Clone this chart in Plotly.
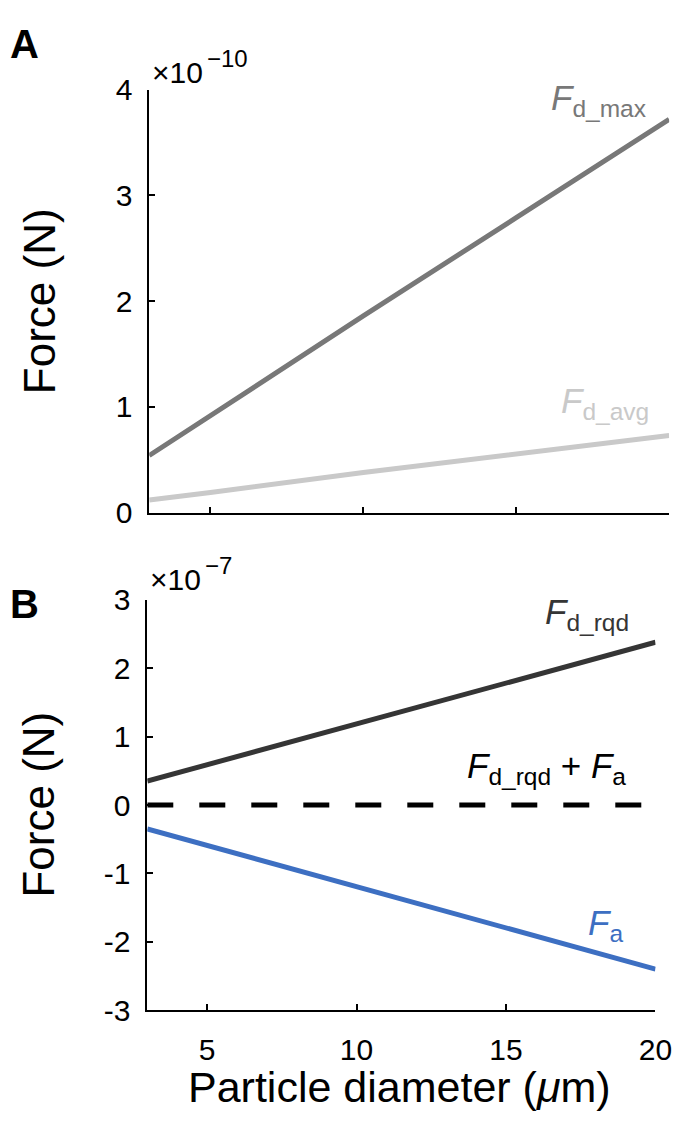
import plotly.graph_objects as go

# ---------------- data ----------------
diameter = [3, 5, 10, 15, 20]                      # particle diameter (um)
# Panel A, units of 1e-10 N
fd_max = [0.54, 0.92, 1.86, 2.79, 3.72]
fd_avg = [0.12, 0.19, 0.38, 0.56, 0.73]
# Panel B, units of 1e-7 N
fd_rqd = [0.35, 0.59, 1.19, 1.79, 2.38]
f_a = [-0.35, -0.59, -1.19, -1.79, -2.40]
f_sum = [0.0, 0.0, 0.0, 0.0, 0.0]

x_ticks = [5, 10, 15, 20]
ya_ticks = [0, 1, 2, 3, 4]
yb_ticks = [-3, -2, -1, 0, 1, 2, 3]
yb_ticktext = ["-3", "-2", "-1", "0", "1", "2", "3"]
exp_a = "−10"
exp_b = "−7"

W, H = 692, 1128
FONT = "Liberation Sans, Arial, Helvetica, sans-serif"

C_MAX = "#787878"
C_AVG = "#c9c9c9"
C_RQD = "#353535"
C_A = "#3d6fc2"


def px(x):
    return x / W


def py(y):
    return 1 - y / H


fig = go.Figure()
fig.add_trace(go.Scatter(x=diameter, y=fd_max, mode="lines",
                         line=dict(color=C_MAX, width=5), xaxis="x", yaxis="y"))
fig.add_trace(go.Scatter(x=diameter, y=fd_avg, mode="lines",
                         line=dict(color=C_AVG, width=5), xaxis="x", yaxis="y"))
fig.add_trace(go.Scatter(x=diameter, y=f_sum, mode="lines",
                         line=dict(color="black", width=5, dash="26px,26px"),
                         xaxis="x2", yaxis="y2"))
fig.add_trace(go.Scatter(x=diameter, y=fd_rqd, mode="lines",
                         line=dict(color=C_RQD, width=5), xaxis="x2", yaxis="y2"))
fig.add_trace(go.Scatter(x=diameter, y=f_a, mode="lines",
                         line=dict(color=C_A, width=5), xaxis="x2", yaxis="y2"))

axis_common = dict(showline=True, linecolor="black", linewidth=1.5,
                   ticks="inside", ticklen=6, tickwidth=1.5, tickcolor="black",
                   showgrid=False, zeroline=False,
                   tickfont=dict(family=FONT, size=30, color="black"))

fig.update_layout(
    width=W, height=H,
    margin=dict(l=0, r=0, t=0, b=0),
    paper_bgcolor="white", plot_bgcolor="white",
    showlegend=False,
    xaxis=dict(domain=[px(153), px(686)], range=[3, 20], tickvals=x_ticks,
               showticklabels=False, anchor="y", **axis_common),
    yaxis=dict(domain=[py(511), py(75)], range=[0, 4], tickvals=ya_ticks,
               anchor="x", ticklabelstandoff=9, **axis_common),
    xaxis2=dict(domain=[px(151), px(672)], range=[3, 20], tickvals=x_ticks,
                anchor="y2", ticklabelstandoff=12, **axis_common),
    yaxis2=dict(domain=[py(1024), py(601)], range=[-3, 3], tickvals=yb_ticks,
                ticktext=yb_ticktext, anchor="x2", ticklabelstandoff=9,
                **axis_common),
)

anns = []


def ann(text, x, y, size, color="black", xanchor="left", yanchor="middle",
        angle=0):
    anns.append(dict(text=text, x=px(x), y=py(y), xref="paper", yref="paper",
                     xanchor=xanchor, yanchor=yanchor, showarrow=False,
                     textangle=angle,
                     font=dict(family=FONT, size=size, color=color)))


# panel letters
ann("<b>A</b>", 8, 28, 40)
ann("<b>B</b>", 8, 605, 40)
# exponent labels (multiplier and its raised exponent)
ann("×10", 154, 57, 30)
ann(exp_a, 210, 43, 24)
ann("×10", 152, 580, 30)
ann(exp_b, 208, 566, 24)
# axis titles
ann("Force (N)", 40, 293, 44, xanchor="center", angle=-90)
ann("Force (N)", 40, 812, 44, xanchor="center", angle=-90)
ann("Particle diameter (<i>μ</i>m)", 410, 1103, 43, xanchor="center")
# line labels
ann("<i>F</i><sub>d_max</sub>", 563, 86, 35, color=C_MAX)
ann("<i>F</i><sub>d_avg</sub>", 573, 398, 35, color=C_AVG)
ann("<i>F</i><sub>d_rqd</sub>", 557, 616, 35, color=C_RQD)
ann("<i>F</i><sub>d_rqd</sub> + <i>F</i><sub>a</sub>", 477, 774, 35)
ann("<i>F</i><sub>a</sub>", 601, 936, 35, color=C_A)

fig.update_layout(annotations=anns)
fig.write_html("out.html", config={"displayModeBar": False},
               post_script="document.body.style.margin='0';"
                           "document.body.style.overflow='hidden';")
